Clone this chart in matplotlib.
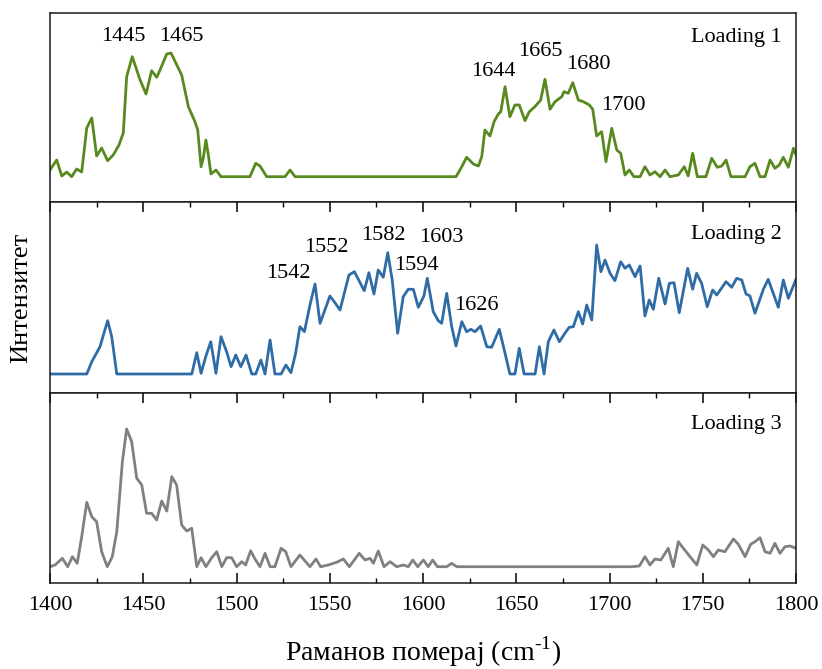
import matplotlib
matplotlib.use("Agg")
import matplotlib.pyplot as plt
from matplotlib.ticker import MultipleLocator

plt.rcParams['font.family'] = ['Liberation Serif', 'DejaVu Serif']
plt.rcParams['mathtext.fontset'] = 'custom'
plt.rcParams['mathtext.rm'] = 'Liberation Serif'

# Loading 1 (green)
wn1 = [1400, 1403.6, 1406.3, 1409, 1411.6, 1414.3, 1417, 1419.7, 1422.4, 1425,
       1427.7, 1430.9, 1433.9, 1437, 1439.3, 1441.1, 1444.1, 1448.3, 1451.5, 1454.5,
       1457.2, 1459, 1462.6, 1464.9, 1470.6, 1474.2, 1477.7, 1479.2, 1481, 1482.2,
       1483.6, 1484.9, 1486.3, 1489, 1491.7, 1507.2, 1510.3, 1512.6, 1516.2, 1526,
       1528.7, 1531.4, 1617.7, 1620.8, 1623.4, 1627, 1629.7, 1631.5, 1633.2, 1635.9,
       1638.1, 1640.4, 1641.7, 1644, 1646.6, 1649.3, 1651.6, 1654.7, 1657, 1660,
       1663.1, 1665.4, 1668.1, 1670.8, 1674.4, 1675.6, 1677.9, 1680.3, 1683.3, 1686,
       1689.2, 1691, 1693.1, 1695.8, 1698.1, 1701.2, 1703.9, 1706, 1708.3, 1710.6,
       1713.1, 1716.4, 1719, 1721.7, 1724.4, 1727.1, 1729.8, 1732.4, 1736.9, 1740.1,
       1742.2, 1744.6, 1747.1, 1751.7, 1754.8, 1757.8, 1760.2, 1762.5, 1765.1, 1772.7,
       1775.3, 1778, 1780.7, 1783.4, 1786.1, 1788.7, 1791, 1793.2, 1795.9, 1798.6, 1800]
int1 = [6.7, 16.7, 0.7, 4.7, 0, 7.7, 4.7, 48.7, 58.7, 20.7,
        28.7, 16, 21.7, 31.7, 43.7, 100, 120, 96.7, 82.7, 106,
        99.4, 106.7, 122.7, 123.7, 101.7, 70, 55, 46.7, 10, 18.7,
        36.7, 21.7, 2.7, 6.7, 0, 0, 13.4, 10.7, 0, 0,
        6.7, 0, 0, 10, 19.4, 12.7, 10.7, 20, 46.7, 40.7,
        55, 62.7, 65, 90, 60, 71.7, 71.7, 56, 65, 70,
        76.7, 97.4, 67.4, 75, 80, 85, 83.4, 94, 76.7, 75,
        71.7, 67.4, 40.7, 45, 15, 48.4, 26.7, 23.4, 1.7, 6.7,
        0, 0, 10, 1.7, 5, 0, 6.7, 0, 1.7, 10,
        0.7, 23.4, 0, 0, 18.4, 9.4, 10.7, 16.7, 0, 0,
        10, 13.4, 0, 0, 16.7, 8.4, 11.7, 19.4, 9.4, 28.4, 22]

# Loading 2 (blue)
wn2 = [1400, 1419.7, 1422.4, 1426.8, 1430.9, 1433.1, 1435.8, 1476, 1478.7, 1481,
       1483.5, 1486.2, 1489, 1491.7, 1494.7, 1497.1, 1499.6, 1502.3, 1505.1, 1508.2,
       1510.3, 1513.1, 1515.3, 1518, 1520.6, 1523.9, 1526.5, 1529.2, 1531.7, 1534,
       1536.4, 1539.4, 1542.1, 1544.8, 1550.1, 1552.4, 1555.5, 1560.3, 1563.2, 1568.5,
       1571, 1573.7, 1576, 1578.7, 1581.1, 1583.5, 1586.4, 1589.4, 1592.1, 1594.8,
       1597.5, 1600.5, 1602.3, 1605.5, 1608.2, 1610, 1612.7, 1615.4, 1617.7, 1620.8,
       1623.4, 1625.6, 1627.9, 1630.9, 1634.2, 1636.8, 1640.9, 1644, 1646.6, 1649.3,
       1651.6, 1654.2, 1660.1, 1662.4, 1664.9, 1667.2, 1670.2, 1673.1, 1676.1, 1678.4,
       1680.6, 1683.3, 1685.6, 1687.8, 1690.5, 1693.1, 1695.4, 1697.6, 1700.3, 1702.9,
       1706, 1708.3, 1710.6, 1713.7, 1716.4, 1719, 1721.3, 1723.5, 1726.4, 1729.8,
       1732.1, 1734.6, 1737.4, 1741.9, 1744.6, 1746.7, 1749.4, 1752.4, 1755.3, 1757.5,
       1762.5, 1765.5, 1768.2, 1770.9, 1773.2, 1775.3, 1778, 1782.5, 1785.1, 1787.8,
       1790.5, 1793.2, 1795.9, 1800]
int2 = [0, 0, 12.3, 27.3, 53.3, 37.3, 0, 0, 21.3, 0.7,
        17.3, 32.3, 0.7, 37.3, 22.3, 7.3, 19, 7.3, 19, 0,
        0, 14, 0, 34, 0, 0, 9, 1.3, 20.7, 47.3,
        42.3, 69, 90, 50.7, 78, 72.3, 64, 99, 102.3, 83.3,
        101.3, 80, 104, 96.7, 121.3, 94, 40.7, 77.3, 84.7, 84.7,
        66.7, 78, 95.7, 62.3, 53.3, 50.7, 80.7, 47.3, 28, 52.3,
        42.3, 44.7, 42.3, 48, 27.3, 26.7, 44.7, 20.7, 0, 0,
        25.7, 0, 0, 27.3, 0, 32.3, 44, 32.3, 40.7, 46.7,
        47.3, 62.3, 50, 69, 54, 129, 102.3, 114, 100.7, 93.3,
        112.3, 105.7, 109, 97.3, 108, 58, 74, 64.7, 95.7, 70,
        90.7, 91.3, 61.3, 105.7, 84.7, 100.7, 90.7, 67.3, 84, 79,
        92.3, 86.7, 95.7, 94, 80, 78, 60.7, 84.7, 94.7, 80.7,
        66.7, 94, 75.7, 94.7]

# Loading 3 (gray)
wn3 = [1400, 1402.7, 1406.6, 1409.5, 1412, 1414.6, 1417, 1419.7, 1422.4, 1425,
       1427.7, 1430.7, 1433.4, 1435.8, 1438.8, 1441.1, 1443.8, 1446.5, 1449.2, 1451.8,
       1454.5, 1457.2, 1459.9, 1462.6, 1465.3, 1467.9, 1470.6, 1473.3, 1476, 1478.7,
       1481, 1483.6, 1486.7, 1489.4, 1492.1, 1494.7, 1497.4, 1500.1, 1502.8, 1504.9,
       1507.6, 1509.9, 1512.6, 1515.3, 1518, 1520.6, 1523.9, 1526.4, 1529.2, 1534,
       1539.4, 1542.6, 1545.1, 1549.2, 1553.7, 1557.3, 1560.5, 1565.8, 1568.9, 1571.6,
       1573.4, 1576, 1579.1, 1582.3, 1585.9, 1589.4, 1592.1, 1594.5, 1597.2, 1600.2,
       1602.8, 1605.2, 1607.7, 1612.7, 1615.4, 1618.1, 1711.9, 1716, 1719, 1721.7,
       1724.4, 1727.5, 1731.5, 1734.2, 1736.9, 1739.6, 1743.2, 1746.8, 1750, 1753,
       1755.7, 1758.3, 1761.9, 1766.4, 1769.1, 1772.7, 1775.7, 1778, 1780.7, 1783.4,
       1786.1, 1788.7, 1791.4, 1794.1, 1796.8, 1800]
int3 = [0, 1.7, 8.4, 0, 10, 3.4, 30, 64.4, 50, 45,
        15, 0, 10, 35, 105, 137.7, 125, 88.4, 81.7, 53.4,
        53.4, 46.7, 65.7, 55.7, 90, 81.7, 41.7, 35.7, 38.4, 0,
        9, 0, 9, 15, 0, 9, 9, 0, 5, 1.7,
        16, 7.7, 0, 13.4, 0, 0, 18.4, 15, 0, 11.7,
        0, 7.7, 0, 1.7, 4.4, 7.7, 0, 13.4, 6.7, 8.4,
        3.4, 15.7, 0, 5, 0, 1.7, 0, 6.7, 0, 6.7,
        0, 6.7, 0, 0, 3.4, 0, 0, 0.7, 10, 1.7,
        7.7, 6.7, 18.4, 0, 25, 18.4, 10, 1.7, 21.7, 16.7,
        10, 16.7, 15, 27.7, 22.4, 10, 22.4, 25, 29, 15,
        13.4, 23.4, 13.4, 20, 20.7, 18.4]

# peak labels: (text, x, y)
peaks1 = [("1445", 1439.1, 140.7), ("1465", 1470.2, 140.7), ("1644", 1637.7, 105.7),
          ("1665", 1662.7, 125.7), ("1680", 1688.7, 112.2), ("1700", 1707.5, 71.2)]
peaks2 = [("1542", 1527.8, 100), ("1552", 1548.4, 126.5), ("1582", 1578.7, 138),
          ("1603", 1610.0, 137), ("1594", 1596.6, 108.5), ("1626", 1628.8, 68.5)]

fig = plt.figure(figsize=(8.22, 6.69), dpi=100)
L, W = 50 / 822, 746 / 822
ax1 = fig.add_axes([L, 1 - 202 / 669, W, 189 / 669])
ax2 = fig.add_axes([L, 1 - 393 / 669, W, 191 / 669])
ax3 = fig.add_axes([L, 1 - 583 / 669, W, 190 / 669])

panels = [
    (ax1, wn1, int1, '#58891f', (-25.3, 163.7), "Loading 1", 0.873, peaks1),
    (ax2, wn2, int2, '#2f6ca6', (-19, 172), "Loading 2", 0.832, peaks2),
    (ax3, wn3, int3, '#808080', (-16.3, 173.7), "Loading 3", 0.832, []),
]
for ax, x, y, c, yl, name, ty, peaks in panels:
    ax.plot(x, y, color=c, lw=2.0)
    ax.set_xlim(1400, 1800)
    ax.set_ylim(*yl)
    ax.set_yticks([])
    ax.xaxis.set_major_locator(MultipleLocator(50))
    ax.xaxis.set_minor_locator(MultipleLocator(25))
    ax.tick_params(axis='x', which='major', direction='in', length=7, width=1.1,
                   labelsize=16, pad=9, bottom=False, top=True, labelbottom=False)
    ax.tick_params(axis='x', which='minor', direction='in', length=3.5, width=1.0,
                   bottom=False, top=True)
    for s in ax.spines.values():
        s.set_linewidth(1.1)
        s.set_color('#1a1a1a')
    ax.text(0.981, ty, name, transform=ax.transAxes, ha='right', va='center', fontsize=16)
    for t, px, py in peaks:
        ax.text(px, py, t, ha='center', va='center', fontsize=16)

ax1.tick_params(axis='x', which='both', top=False)
ax3.tick_params(axis='x', which='both', bottom=True)
ax3.tick_params(axis='x', which='major', labelbottom=True)

ax3.set_xlabel(r"Раманов померај (cm$^{\text{-1}}$)", fontsize=20, labelpad=14)
fig.text(0.026, 0.555, "Интензитет", rotation=90, ha='center', va='center', fontsize=19)

fig.savefig("out.png", dpi=100)
